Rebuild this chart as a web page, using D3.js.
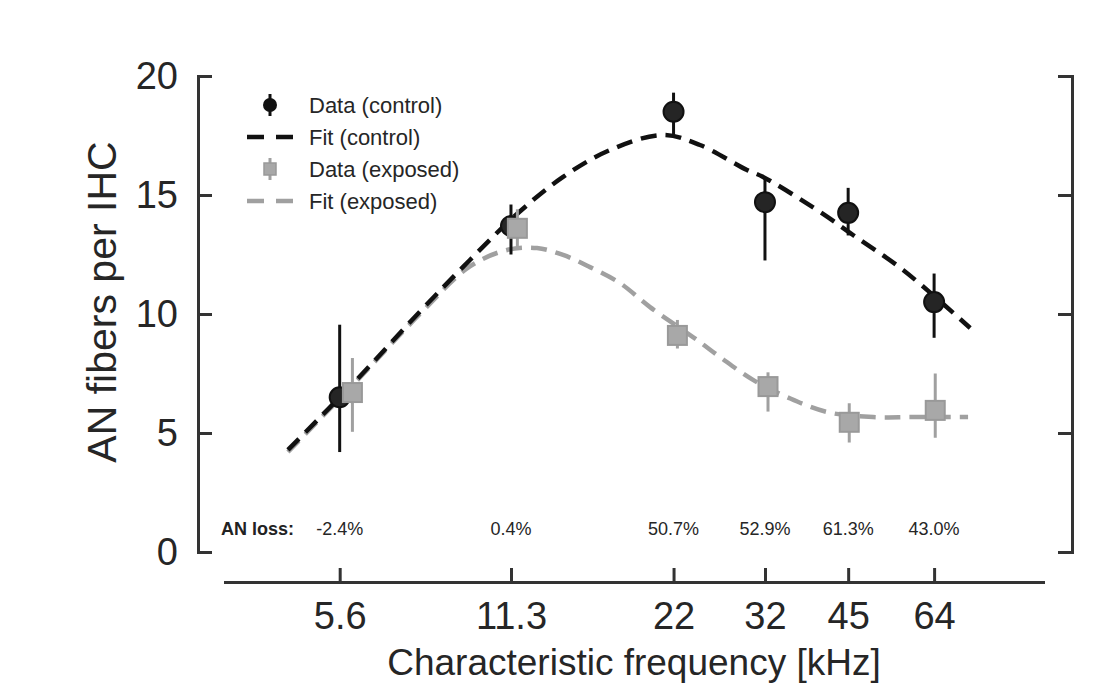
<!DOCTYPE html>
<html>
<head>
<meta charset="utf-8">
<script src="https://cdn.jsdelivr.net/npm/d3@7"></script>
<style>
  body { margin: 0; background: #fff; }
  svg { display: block; font-family: "Liberation Sans", Arial, Helvetica, sans-serif; }
  .axis path, .axis line { stroke: #333; stroke-width: 3; }
  .axis text { fill: #262626; font-size: 38px; }
</style>
</head>
<body>
<svg id="chart"></svg>
<script>
// x ticks (kHz) and the AN loss row
const tickFreqs = [5.6, 11.3, 22, 32, 45, 64];
const tickLabels = ["5.6", "11.3", "22", "32", "45", "64"];
const lossLabels = ["-2.4%", "0.4%", "50.7%", "52.9%", "61.3%", "43.0%"];

// data (control)
const controlFreq = [5.6, 11.3, 22, 32, 45, 64];
const controlMean = [6.5, 13.7, 18.5, 14.7, 14.25, 10.5];
const controlLow  = [4.2, 12.5, 17.45, 12.25, 13.3, 9.0];
const controlHigh = [9.55, 14.6, 19.3, 15.75, 15.3, 11.7];

// data (exposed)
const exposedFreq = [5.9, 11.6, 22.35, 32.4, 45.2, 64.3];
const exposedMean = [6.7, 13.6, 9.1, 6.95, 5.45, 5.95];
const exposedLow  = [5.05, 12.7, 8.55, 5.9, 4.6, 4.8];
const exposedHigh = [8.15, 14.4, 9.75, 7.55, 6.25, 7.5];

// fit curves
const fitControlFreq = [4.53, 6.01, 7.78, 9.55, 11.58, 13.99, 16.96, 21.07, 24.52, 29.73, 31.75, 40.1, 45.9, 56.36, 74.2];
const fitControlVal  = [4.29, 7.25, 10.1, 12.27, 14.2, 15.76, 16.89, 17.52, 17.10, 16.05, 15.76, 14.29, 13.32, 11.85, 9.41];
const fitExposedFreq = [4.53, 6.01, 7.78, 9.55, 11.12, 12.57, 13.99, 15.62, 17.66, 19.98, 24.22, 26.62, 30.47, 35.03, 41.27, 49.83, 58.71, 73.56];
const fitExposedVal  = [4.2, 7.2, 10.0, 12.0, 12.69, 12.77, 12.48, 11.97, 11.30, 10.29, 8.91, 8.19, 7.23, 6.51, 5.88, 5.67, 5.67, 5.67];

const yTicks = [0, 5, 10, 15, 20];

const width = 1097, height = 685;
const gray = "#a0a0a0";

const svg = d3.select("#chart").attr("width", width).attr("height", height);
svg.append("rect").attr("width", width).attr("height", height).attr("fill", "#fff");

const x = d3.scaleLog().domain([3.5, 100]).range([225, 1043]);
const y = d3.scaleLinear().domain([0, 20]).range([552, 76]);
const yLeft = 198, yRight = 1072, xAxisY = 582;

// axes
svg.append("g")
  .attr("class", "axis")
  .attr("transform", `translate(${yLeft},0)`)
  .call(d3.axisLeft(y).tickValues(yTicks).tickSizeInner(-14).tickSizeOuter(0).tickPadding(20));

svg.append("g")
  .attr("class", "axis")
  .attr("transform", `translate(${yRight},0)`)
  .call(d3.axisRight(y).tickValues(yTicks).tickSizeInner(-14).tickSizeOuter(0).tickFormat(""));

svg.append("g")
  .attr("class", "axis")
  .attr("transform", `translate(0,${xAxisY})`)
  .call(d3.axisBottom(x).tickValues(tickFreqs).tickSizeInner(-14).tickSizeOuter(0).tickPadding(20)
    .tickFormat((d, i) => tickLabels[i]));

svg.selectAll(".axis .domain").attr("stroke-linecap", "square");

// axis titles
svg.append("text")
  .attr("x", (x.range()[0] + x.range()[1]) / 2)
  .attr("y", 675)
  .attr("text-anchor", "middle")
  .attr("font-size", 37).attr("fill", "#262626")
  .text("Characteristic frequency [kHz]");

svg.append("text")
  .attr("transform", "translate(116,302) rotate(-90)")
  .attr("text-anchor", "middle")
  .attr("font-size", 41).attr("fill", "#262626")
  .text("AN fibers per IHC");

// fits
const line = d3.line().x(d => x(d[0])).y(d => y(d[1])).curve(d3.curveCatmullRom.alpha(0.5));

svg.append("path")
  .attr("d", line(d3.zip(fitExposedFreq, fitExposedVal)))
  .attr("fill", "none").attr("stroke", gray).attr("stroke-width", 4.5)
  .attr("stroke-dasharray", "16,9");

svg.append("path")
  .attr("d", line(d3.zip(fitControlFreq, fitControlVal)))
  .attr("fill", "none").attr("stroke", "#111").attr("stroke-width", 4.5)
  .attr("stroke-dasharray", "16,9");

// control data
const ctrl = svg.append("g");
ctrl.selectAll("line")
  .data(controlFreq).enter().append("line")
  .attr("x1", d => x(d)).attr("x2", d => x(d))
  .attr("y1", (d, i) => y(controlLow[i])).attr("y2", (d, i) => y(controlHigh[i]))
  .attr("stroke", "#111").attr("stroke-width", 3);
ctrl.selectAll("circle")
  .data(controlFreq).enter().append("circle")
  .attr("cx", d => x(d)).attr("cy", (d, i) => y(controlMean[i]))
  .attr("r", 10)
  .attr("fill", "#252525").attr("stroke", "#111").attr("stroke-width", 2);

// exposed data
const expo = svg.append("g");
expo.selectAll("line")
  .data(exposedFreq).enter().append("line")
  .attr("x1", d => x(d)).attr("x2", d => x(d))
  .attr("y1", (d, i) => y(exposedLow[i])).attr("y2", (d, i) => y(exposedHigh[i]))
  .attr("stroke", gray).attr("stroke-width", 3);
expo.selectAll("rect")
  .data(exposedFreq).enter().append("rect")
  .attr("x", d => x(d) - 9.5).attr("y", (d, i) => y(exposedMean[i]) - 9.5)
  .attr("width", 19).attr("height", 19)
  .attr("fill", "#a8a8a8").attr("stroke", "#999").attr("stroke-width", 2);

// AN loss row
svg.append("text")
  .attr("x", 221).attr("y", 535)
  .attr("font-size", 18).attr("font-weight", "bold").attr("fill", "#222")
  .text("AN loss:");
svg.selectAll(".loss")
  .data(tickFreqs).enter().append("text")
  .attr("class", "loss")
  .attr("x", d => x(d)).attr("y", 535)
  .attr("text-anchor", "middle")
  .attr("font-size", 18).attr("fill", "#262626")
  .text((d, i) => lossLabels[i]);

// legend
const legend = svg.append("g");
const legendRows = ["Data (control)", "Fit (control)", "Data (exposed)", "Fit (exposed)"];
const rowY = [105, 137, 169, 201];
legendRows.forEach((label, i) => {
  legend.append("text")
    .attr("x", 309).attr("y", rowY[i]).attr("dy", "0.35em")
    .attr("font-size", 22).attr("fill", "#262626")
    .text(label);
});
legend.append("line").attr("x1", 270).attr("x2", 270).attr("y1", rowY[0] - 11).attr("y2", rowY[0] + 11)
  .attr("stroke", "#111").attr("stroke-width", 3);
legend.append("circle").attr("cx", 270).attr("cy", rowY[0]).attr("r", 7).attr("fill", "#111");
legend.append("line").attr("x1", 247).attr("x2", 293).attr("y1", rowY[1]).attr("y2", rowY[1])
  .attr("stroke", "#111").attr("stroke-width", 4.5).attr("stroke-dasharray", "17,12");
legend.append("line").attr("x1", 270).attr("x2", 270).attr("y1", rowY[2] - 11).attr("y2", rowY[2] + 11)
  .attr("stroke", gray).attr("stroke-width", 3);
legend.append("rect").attr("x", 264).attr("y", rowY[2] - 6).attr("width", 12).attr("height", 12)
  .attr("fill", "#a8a8a8").attr("stroke", "#999").attr("stroke-width", 1.5);
legend.append("line").attr("x1", 247).attr("x2", 293).attr("y1", rowY[3]).attr("y2", rowY[3])
  .attr("stroke", gray).attr("stroke-width", 4.5).attr("stroke-dasharray", "17,12");
</script>
</body>
</html>
